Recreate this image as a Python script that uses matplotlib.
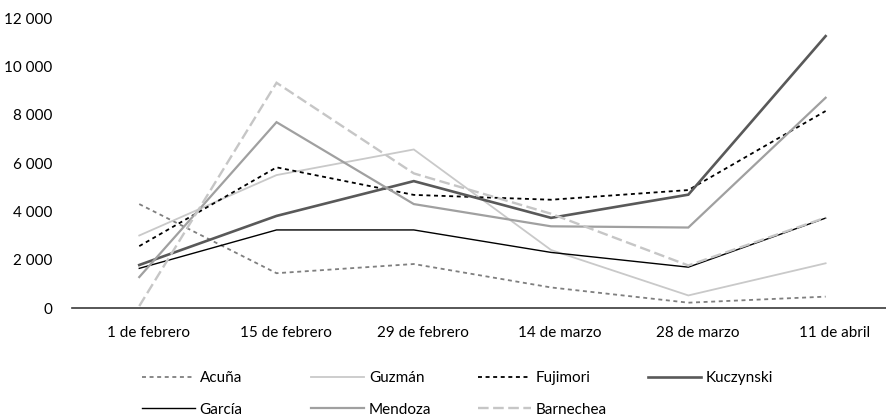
import matplotlib
matplotlib.use("Agg")
import matplotlib.pyplot as plt
import matplotlib.transforms as mtransforms
from matplotlib.ticker import FuncFormatter

plt.rcParams['font.family'] = ['Lato', 'DejaVu Sans']

fechas = ['1 de febrero', '15 de febrero', '29 de febrero',
          '14 de marzo', '28 de marzo', '11 de abril']
acuna = [4300, 1440, 1820, 850, 220, 470]
guzman = [3000, 5500, 6560, 2400, 520, 1850]
fujimori = [2560, 5820, 4680, 4480, 4880, 8150]
kuczynski = [1780, 3810, 5250, 3730, 4690, 11250]
garcia = [1640, 3230, 3230, 2300, 1690, 3720]
mendoza = [1280, 7690, 4300, 3380, 3330, 8700]
barnechea = [80, 9320, 5570, 3900, 1760, 3740]
yticks = [0, 2000, 4000, 6000, 8000, 10000, 12000]

W, H = 886, 418
fig = plt.figure(figsize=(W / 100, H / 100), dpi=100)
ax = fig.add_axes([72 / W, (H - 308) / H, (W - 72) / W, 290 / H])

x = list(range(len(fechas)))
styles = {
    'Acuña': dict(data=acuna, color='#7f7f7f', lw=1.3, ls=(0, (2.2, 2.0))),
    'Guzmán': dict(data=guzman, color='#c9c9c9', lw=1.3, ls='-'),
    'Fujimori': dict(data=fujimori, color='#000000', lw=1.3, ls=(0, (2.2, 2.0))),
    'Kuczynski': dict(data=kuczynski, color='#595959', lw=1.9, ls='-'),
    'García': dict(data=garcia, color='#000000', lw=1.0, ls='-'),
    'Mendoza': dict(data=mendoza, color='#a0a0a0', lw=1.6, ls='-'),
    'Barnechea': dict(data=barnechea, color='#c6c6c6', lw=1.7, ls=(0, (4.5, 1.9))),
}

lines = {}
for name, s in styles.items():
    (ln,) = ax.plot(x, s['data'], color=s['color'], lw=s['lw'],
                    linestyle=s['ls'], label=name,
                    solid_joinstyle='miter', dash_joinstyle='miter')
    lines[name] = ln

ax.set_xlim(-0.49, 5.44)
ax.set_ylim(0, 12000)
ax.set_yticks(yticks)
ax.yaxis.set_major_formatter(FuncFormatter(lambda v, p: f"{int(v):,}".replace(',', ' ')))
ax.set_xticks(x)
ax.set_xticklabels(fechas)

for side in ('top', 'right', 'left'):
    ax.spines[side].set_visible(False)
ax.spines['bottom'].set_color('#3a3a3a')
ax.spines['bottom'].set_linewidth(1.2)
ax.tick_params(axis='both', length=0, labelsize=11, colors='#000000')
ax.tick_params(axis='x', pad=13)
ax.tick_params(axis='y', pad=14)

shift = mtransforms.ScaledTranslation(9 / 100, 0, fig.dpi_scale_trans)
for lab in ax.get_xticklabels():
    lab.set_transform(lab.get_transform() + shift)

columns = [['Acuña', 'García'], ['Guzmán', 'Mendoza'],
           ['Fujimori', 'Barnechea'], ['Kuczynski']]
col_x = [142, 311, 478, 648]
for names, cx in zip(columns, col_x):
    fig.legend(handles=[lines[n] for n in names], labels=names,
               loc='upper left', bbox_to_anchor=(cx / W, (H - 371) / H),
               frameon=False, borderpad=0, borderaxespad=0,
               fontsize=11, handlelength=3.45, handletextpad=0.33,
               labelspacing=1.16)

fig.savefig('out.png', dpi=100)
